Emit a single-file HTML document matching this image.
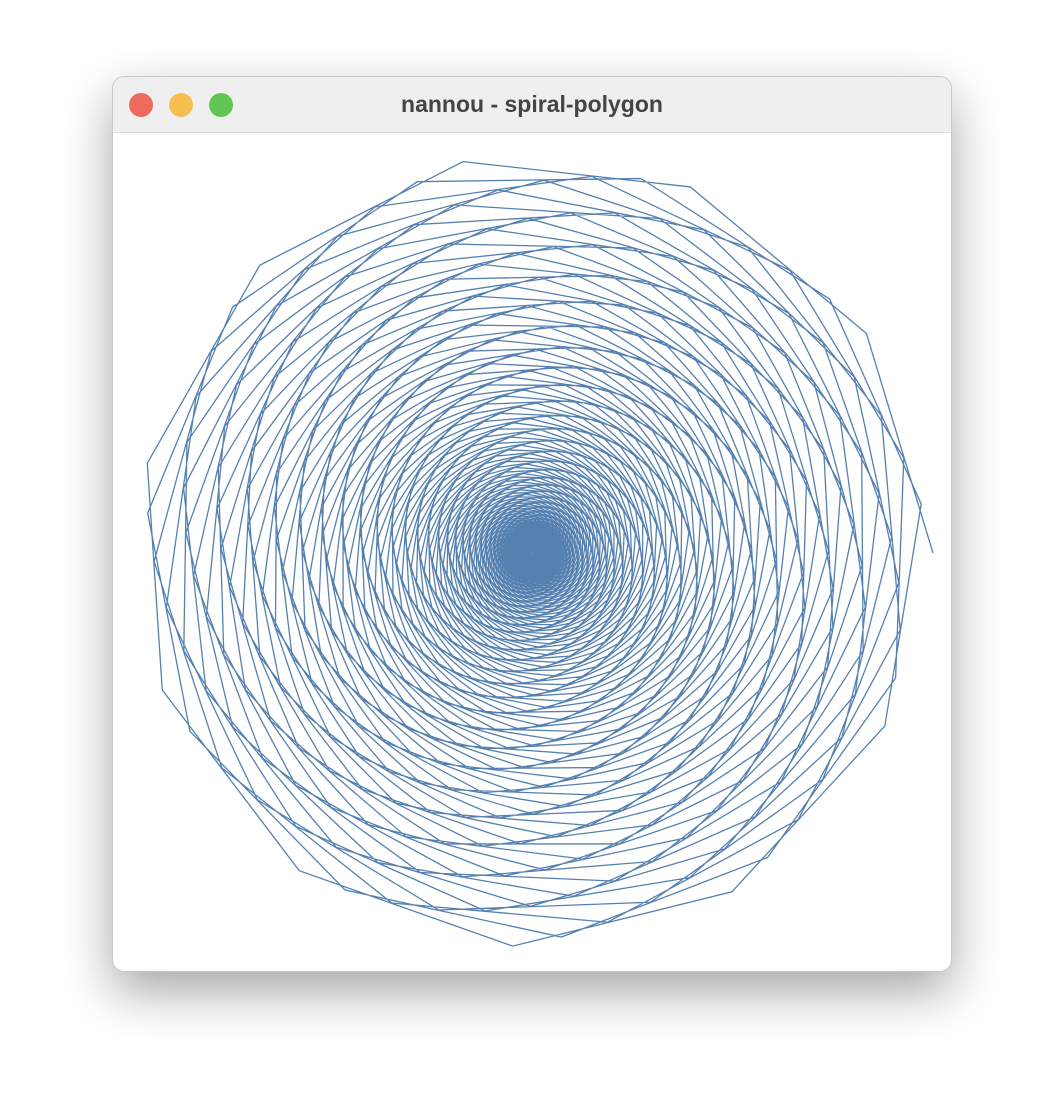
<!DOCTYPE html>
<html><head><meta charset="utf-8"><style>
body{margin:0;width:1064px;height:1120px;background:#fff;overflow:hidden;font-family:"Liberation Sans",sans-serif}
#win{position:absolute;left:112px;top:76px;width:840px;height:896px;border-radius:12px;background:#fff;box-shadow:0 20px 50px rgba(0,0,0,0.35);overflow:hidden;border:1px solid #c8c8c8;box-sizing:border-box}
#bar{position:absolute;left:0;top:0;width:100%;height:55px;background:#efefef;border-bottom:1px solid #ddd}
.dot{position:absolute;top:16px;width:24px;height:24px;border-radius:50%}
#title{position:absolute;top:0;width:100%;text-align:center;line-height:55px;font-weight:bold;font-size:23px;color:#444}
</style></head><body>
<div id="win">
<div id="bar">
<div class="dot" style="left:16px;background:#ee6a5e"></div>
<div class="dot" style="left:56px;background:#f5bf4f"></div>
<div class="dot" style="left:96px;background:#61c554"></div>
<div id="title">nannou - spiral-polygon</div>
</div>
<svg id="c" width="840" height="840" style="position:absolute;left:0;top:55px"></svg>
</div>
<script>
const sides=[11];
const outerRadius=[400];
const twist=[0.0114];
const shrink=[0.998];
const count=[3000];
const svg=document.getElementById('c');
const cx=420,cy=421;
let pts=[];
const step=2*Math.PI/sides[0]+twist[0];
let r=outerRadius[0];
for(let i=0;i<=count[0];i++){const a=-i*step;pts.push((cx+r*Math.cos(a)).toFixed(2)+','+(cy+r*Math.sin(a)).toFixed(2));r*=shrink[0];}
const pl=document.createElementNS('http://www.w3.org/2000/svg','polyline');
pl.setAttribute('points',pts.join(' '));
pl.setAttribute('fill','none');pl.setAttribute('stroke','#5580b0');pl.setAttribute('stroke-width','1.3');


svg.appendChild(pl);
</script>
</body></html>
